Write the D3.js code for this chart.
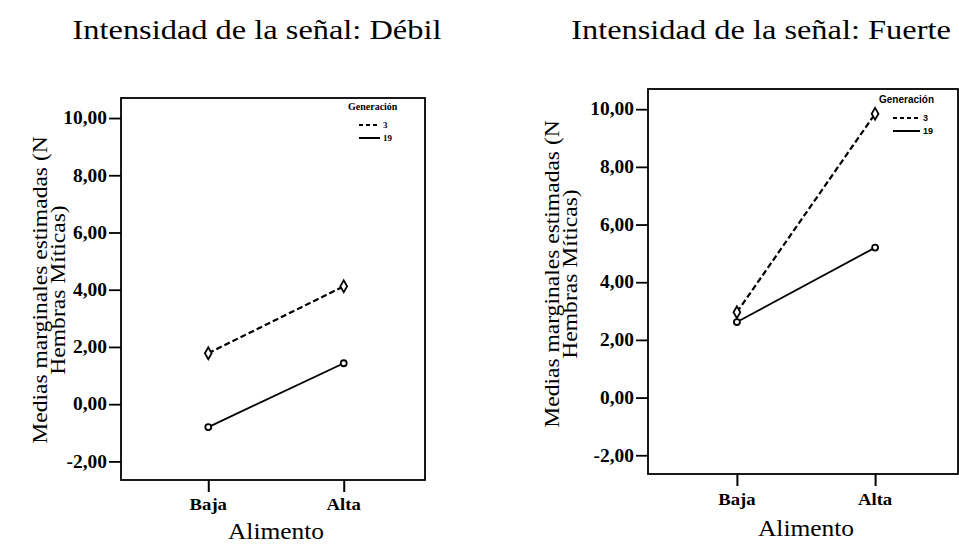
<!DOCTYPE html>
<html>
<head>
<meta charset="utf-8">
<script src="https://cdn.jsdelivr.net/npm/d3@7"></script>
<style>
  html, body { margin: 0; padding: 0; background: #fff; }
  svg { display: block; }
</style>
</head>
<body>
<svg id="chart" width="959" height="545"></svg>
<script>
// Estimated marginal means (N Hembras Míticas) by food level and generation
const foodLevels = ["Baja", "Alta"];
const generations = ["3", "19"];
const panelTitles = ["Intensidad de la señal: Débil", "Intensidad de la señal: Fuerte"];
const debilGen3 = [1.78, 4.12];
const debilGen19 = [-0.80, 1.43];
const fuerteGen3 = [2.96, 9.84];
const fuerteGen19 = [2.62, 5.20];
const yTicks = [-2, 0, 2, 4, 6, 8, 10];
const yDomain = [-2.65, 10.7];

const panels = [
  { title: panelTitles[0], series: [debilGen3, debilGen19],
    box: { x0: 121, x1: 425, y0: 98, y1: 480 }, titleX: 257, titleY: 39,
    ylabX: 47, ylabY: 290,
    legend: { x: 348, y: 110, font: "'Liberation Serif', serif", size: 9, lx0: 11, len: 21 },
    xlabY: 510, alimY: 539 },
  { title: panelTitles[1], series: [fuerteGen3, fuerteGen19],
    box: { x0: 648, x1: 958, y0: 89, y1: 474 }, titleX: 761, titleY: 39,
    ylabX: 559, ylabY: 274,
    legend: { x: 879, y: 103, font: "'Liberation Sans', Arial, sans-serif", size: 9, lx0: 14, len: 27 },
    xlabY: 505, alimY: 536 }
];

const svg = d3.select("#chart");
const serif = "'Liberation Serif', 'Times New Roman', serif";
const dashStyles = ["6,3", null];
const fmt = d => d3.format(".2f")(d).replace("\u2212", "-").replace(".", ",");

// Widen glyphs horizontally by factor k (keeps the anchor in place)
function stretch(sel, k) {
  sel.each(function () {
    const w = this.getComputedTextLength();
    d3.select(this).attr("textLength", w * k).attr("lengthAdjust", "spacingAndGlyphs");
  });
}

panels.forEach(p => {
  const g = svg.append("g");
  const b = p.box;

  const x = d3.scalePoint().domain(foodLevels).range([b.x0 + 6, b.x1]).padding(0.6);
  const y = d3.scaleLinear().domain(yDomain).range([b.y1, b.y0]);

  // title
  const t = g.append("text")
    .attr("x", p.titleX).attr("y", p.titleY)
    .attr("text-anchor", "middle")
    .style("font-family", serif).style("font-size", "27px")
    .text(p.title);
  stretch(t, 1.2);

  // frame
  g.append("rect")
    .attr("x", b.x0).attr("y", b.y0)
    .attr("width", b.x1 - b.x0).attr("height", b.y1 - b.y0)
    .attr("fill", "none").attr("stroke", "#000").attr("stroke-width", 1.8);

  // y axis
  const yAxis = d3.axisLeft(y).tickValues(yTicks)
    .tickFormat(fmt)
    .tickSize(12).tickPadding(2);
  const ya = g.append("g").attr("transform", `translate(${b.x0},0)`).call(yAxis);
  ya.select(".domain").remove();
  ya.selectAll("line").attr("stroke", "#000").attr("stroke-width", 1.8);
  ya.selectAll("text")
    .style("font-family", serif).style("font-size", "18px").style("font-weight", "bold")
    .attr("fill", "#000");
  stretch(ya.selectAll("text"), 1.08);

  // x axis
  const xAxis = d3.axisBottom(x).tickSize(12).tickPadding(8);
  const xa = g.append("g").attr("transform", `translate(0,${b.y1})`).call(xAxis);
  xa.select(".domain").remove();
  xa.selectAll("line").attr("stroke", "#000").attr("stroke-width", 2);
  xa.selectAll("text").remove();
  foodLevels.forEach(f => {
    const xt = g.append("text").attr("x", x(f)).attr("y", p.xlabY)
      .attr("text-anchor", "middle")
      .style("font-family", serif).style("font-size", "17px").style("font-weight", "bold")
      .text(f);
    stretch(xt, 1.1);
  });

  // x axis title
  const mid = (x(foodLevels[0]) + x(foodLevels[1])) / 2;
  const at = g.append("text").attr("x", mid).attr("y", p.alimY)
    .attr("text-anchor", "middle")
    .style("font-family", serif).style("font-size", "24px")
    .text("Alimento");
  stretch(at, 1.06);

  // y axis title (two lines)
  const yl = g.append("text")
    .attr("transform", `translate(${p.ylabX},${p.ylabY}) rotate(-90)`)
    .attr("text-anchor", "middle")
    .style("font-family", serif).style("font-size", "22px");
  yl.append("tspan").attr("x", 0).attr("dy", 0).text("Medias marginales estimadas (N");
  yl.append("tspan").attr("x", 0).attr("dy", 18).text("Hembras Míticas)");
  stretch(yl.selectAll("tspan"), 1.07);

  // series lines and markers
  const line = d3.line().x((d, i) => x(foodLevels[i])).y(d => y(d));
  p.series.forEach((vals, si) => {
    g.append("path").datum(vals)
      .attr("d", line)
      .attr("fill", "none").attr("stroke", "#000")
      .attr("stroke-width", si === 0 ? 2.2 : 1.8)
      .attr("stroke-dasharray", dashStyles[si]);
    vals.forEach((v, i) => {
      const sym = si === 0 ? d3.symbolDiamond : d3.symbolCircle;
      g.append("path")
        .attr("d", d3.symbol().type(sym).size(si === 0 ? 40 : 28)())
        .attr("transform", `translate(${x(foodLevels[i])},${y(v)})`)
        .attr("fill", "#fff").attr("stroke", "#000").attr("stroke-width", 1.8);
    });
  });

  // legend
  const L = p.legend;
  const lg = g.append("g").attr("transform", `translate(${L.x},${L.y})`);
  lg.append("text").attr("x", 0).attr("y", 0)
    .style("font-family", L.font).style("font-size", (L.size + 1) + "px").style("font-weight", "bold")
    .text("Generación");
  generations.forEach((gen, i) => {
    const ry = 15 + i * 13;
    lg.append("line")
      .attr("x1", L.lx0).attr("x2", L.lx0 + L.len).attr("y1", ry).attr("y2", ry)
      .attr("stroke", "#000").attr("stroke-width", 2)
      .attr("stroke-dasharray", i === 0 ? "4,3" : null);
    lg.append("text").attr("x", L.lx0 + L.len + 3).attr("y", ry + 3)
      .style("font-family", L.font).style("font-size", L.size + "px").style("font-weight", "bold")
      .text(gen);
  });
});
</script>
</body>
</html>
